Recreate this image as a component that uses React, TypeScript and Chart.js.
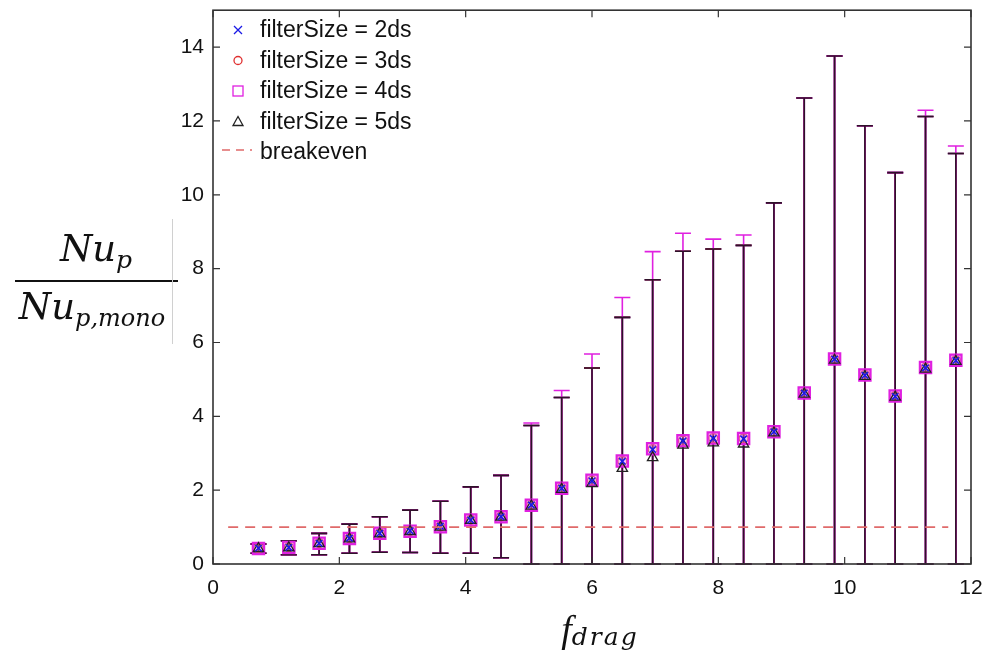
import React, { useEffect, useRef } from "react";
import { Chart, registerables } from "chart.js";
Chart.register(...registerables);

// ---------- data ----------
const fDrag = [0.72, 1.2, 1.68, 2.16, 2.64, 3.12, 3.6, 4.08, 4.56, 5.04, 5.52, 6.0, 6.48, 6.96, 7.44, 7.92, 8.4, 8.88, 9.36, 9.84, 10.32, 10.8, 11.28, 11.76];

const mean2ds = [0.43, 0.45, 0.56, 0.70, 0.83, 0.90, 1.02, 1.19, 1.28, 1.60, 2.05, 2.25, 2.78, 3.10, 3.33, 3.40, 3.39, 3.58, 4.63, 5.55, 5.11, 4.54, 5.31, 5.51];
const mean3ds = [0.43, 0.46, 0.57, 0.70, 0.84, 0.90, 1.02, 1.20, 1.29, 1.60, 2.06, 2.26, 2.79, 3.11, 3.34, 3.41, 3.40, 3.58, 4.63, 5.55, 5.12, 4.55, 5.32, 5.52];
const mean4ds = [0.42, 0.45, 0.56, 0.69, 0.83, 0.89, 1.01, 1.19, 1.28, 1.59, 2.05, 2.27, 2.79, 3.12, 3.34, 3.41, 3.40, 3.58, 4.63, 5.55, 5.12, 4.55, 5.32, 5.52];
const mean5ds = [0.42, 0.44, 0.55, 0.68, 0.82, 0.88, 1.00, 1.18, 1.27, 1.57, 2.02, 2.18, 2.59, 2.88, 3.22, 3.28, 3.25, 3.55, 4.60, 5.52, 5.08, 4.52, 5.28, 5.49];

const upper2ds = [0.54, 0.63, 0.83, 1.08, 1.28, 1.46, 1.70, 2.09, 2.40, 3.75, 4.51, 5.31, 6.68, 7.70, 8.47, 8.53, 8.63, 9.78, 12.62, 13.76, 11.87, 10.60, 12.12, 11.12];
const upper3ds = [0.54, 0.63, 0.83, 1.08, 1.28, 1.46, 1.70, 2.09, 2.40, 3.75, 4.51, 5.31, 6.68, 7.70, 8.47, 8.53, 8.63, 9.78, 12.62, 13.76, 11.87, 10.60, 12.12, 11.12];
const upper4ds = [0.54, 0.63, 0.83, 1.08, 1.28, 1.46, 1.70, 2.09, 2.40, 3.82, 4.70, 5.69, 7.22, 8.46, 8.96, 8.80, 8.91, 9.78, 12.62, 13.76, 11.87, 10.60, 12.29, 11.32];
const upper5ds = [0.54, 0.63, 0.83, 1.08, 1.28, 1.46, 1.70, 2.09, 2.40, 3.75, 4.51, 5.31, 6.68, 7.70, 8.47, 8.53, 8.63, 9.78, 12.62, 13.76, 11.87, 10.60, 12.12, 11.12];

const lower2ds = [0.29, 0.25, 0.25, 0.29, 0.32, 0.31, 0.29, 0.29, 0.17, 0, 0, 0, 0, 0, 0, 0, 0, 0, 0, 0, 0, 0, 0, 0];
const lower3ds = [0.29, 0.25, 0.25, 0.29, 0.32, 0.31, 0.29, 0.29, 0.17, 0, 0, 0, 0, 0, 0, 0, 0, 0, 0, 0, 0, 0, 0, 0];
const lower4ds = [0.29, 0.25, 0.25, 0.29, 0.32, 0.31, 0.29, 0.29, 0.17, 0, 0, 0, 0, 0, 0, 0, 0, 0, 0, 0, 0, 0, 0, 0];
const lower5ds = [0.29, 0.25, 0.25, 0.29, 0.32, 0.31, 0.29, 0.29, 0.17, 0, 0, 0, 0, 0, 0, 0, 0, 0, 0, 0, 0, 0, 0, 0];

const breakevenX = [0.24, 11.64];
const breakevenY = [1, 1];

const seriesLabels = ["filterSize = 2ds", "filterSize = 3ds", "filterSize = 4ds", "filterSize = 5ds", "breakeven"];

const xMin = 0, xMax = 12, xStep = 2;
const yMin = 0, yMax = 15, yStep = 2, yTickMax = 14;

// ---------- colours ----------
const BLUE = "#1a1ae6";
const RED = "#e03030";
const MAGENTA = "#e020e0";
const DARK = "#222222";
const BAR_DARK = "#2e1229";
const BREAKEVEN = "#e06a6a";

const pts = (ys: number[]) => fDrag.map((x, i) => ({ x, y: ys[i] }));

const errorBarPlugin = {
  id: "errorBars",
  beforeDatasetsDraw(chart: any) {
    const { ctx, scales } = chart;
    const xs = scales.x, ys = scales.y;
    ctx.save();
    chart.data.datasets.forEach((ds: any) => {
      const eb = ds.errorBars;
      if (!eb) return;
      ctx.strokeStyle = eb.color;
      ctx.lineWidth = 1.6;
      ds.data.forEach((p: any, j: number) => {
        const px = xs.getPixelForValue(p.x);
        const yt = ys.getPixelForValue(eb.upper[j]);
        const yb = ys.getPixelForValue(eb.lower[j]);
        ctx.beginPath();
        ctx.moveTo(px, yt);
        ctx.lineTo(px, yb);
        ctx.moveTo(px - 8, yt);
        ctx.lineTo(px + 8, yt);
        ctx.moveTo(px - 8, yb);
        ctx.lineTo(px + 8, yb);
        ctx.stroke();
      });
    });
    ctx.restore();
  },
};

const framePlugin = {
  id: "frame",
  afterDraw(chart: any) {
    const { ctx, chartArea: a, scales } = chart;
    ctx.save();
    ctx.strokeStyle = "#333";
    ctx.lineWidth = 1.6;
    ctx.strokeRect(a.left, a.top, a.right - a.left, a.bottom - a.top);
    ctx.lineWidth = 1.2;
    const tl = 7;
    ctx.beginPath();
    for (let v = xMin; v <= xMax; v += xStep) {
      const px = scales.x.getPixelForValue(v);
      ctx.moveTo(px, a.bottom);
      ctx.lineTo(px, a.bottom - tl);
      ctx.moveTo(px, a.top);
      ctx.lineTo(px, a.top + tl);
    }
    for (let v = yMin; v <= yTickMax; v += yStep) {
      const py = scales.y.getPixelForValue(v);
      ctx.moveTo(a.left, py);
      ctx.lineTo(a.left + tl, py);
      ctx.moveTo(a.right, py);
      ctx.lineTo(a.right - tl, py);
    }
    ctx.stroke();
    ctx.restore();
  },
};

const legendPlugin = {
  id: "customLegend",
  afterDraw(chart: any) {
    const { ctx } = chart;
    ctx.save();
    const mx = 238;
    const tx = 260;
    const rows = [30, 60.5, 91, 121.5, 152];
    ctx.lineWidth = 1.3;
    // X
    ctx.strokeStyle = BLUE;
    ctx.beginPath();
    ctx.moveTo(mx - 4, rows[0] - 4); ctx.lineTo(mx + 4, rows[0] + 4);
    ctx.moveTo(mx + 4, rows[0] - 4); ctx.lineTo(mx - 4, rows[0] + 4);
    ctx.stroke();
    // circle
    ctx.strokeStyle = RED;
    ctx.beginPath();
    ctx.arc(mx, rows[1], 4, 0, Math.PI * 2);
    ctx.stroke();
    // square
    ctx.strokeStyle = MAGENTA;
    ctx.strokeRect(mx - 5, rows[2] - 5, 10, 10);
    // triangle
    ctx.strokeStyle = DARK;
    ctx.beginPath();
    ctx.moveTo(mx, rows[3] - 5);
    ctx.lineTo(mx + 5, rows[3] + 4);
    ctx.lineTo(mx - 5, rows[3] + 4);
    ctx.closePath();
    ctx.stroke();
    // dashed
    ctx.strokeStyle = BREAKEVEN;
    ctx.lineWidth = 1.5;
    ctx.setLineDash([8, 6]);
    ctx.beginPath();
    ctx.moveTo(222, rows[4] - 2);
    ctx.lineTo(252, rows[4] - 2);
    ctx.stroke();
    ctx.setLineDash([]);
    // texts
    ctx.fillStyle = "#111";
    ctx.font = '23px "Liberation Sans", Arial, sans-serif';
    ctx.textBaseline = "middle";
    ctx.textAlign = "left";
    seriesLabels.forEach((t, i) => ctx.fillText(t, tx, rows[i] + 1));
    ctx.restore();
  },
};

const zeroPad = (s: any) => {
  s.paddingTop = 0;
  s.paddingBottom = 0;
  s.paddingLeft = 0;
  s.paddingRight = 0;
};

export default function App() {
  const canvasRef = useRef<HTMLCanvasElement | null>(null);

  useEffect(() => {
    if (!canvasRef.current) return;
    const chart = new Chart(canvasRef.current, {
      type: "scatter",
      data: {
        datasets: [
          {
            label: seriesLabels[4],
            type: "line",
            data: breakevenX.map((x, i) => ({ x, y: breakevenY[i] })),
            borderColor: BREAKEVEN,
            borderWidth: 1.6,
            borderDash: [10, 7],
            pointRadius: 0,
            fill: false,
            order: 0,
          } as any,
          {
            label: seriesLabels[0],
            data: pts(mean2ds),
            pointStyle: "crossRot",
            pointRadius: 4.5,
            borderColor: BLUE,
            backgroundColor: BLUE,
            borderWidth: 1.6,
            order: 0.5,
            errorBars: { upper: upper2ds, lower: lower2ds, color: BLUE },
          } as any,
          {
            label: seriesLabels[1],
            data: pts(mean3ds),
            pointStyle: "circle",
            pointRadius: 4.5,
            borderColor: RED,
            backgroundColor: "rgba(0,0,0,0)",
            borderWidth: 1.3,
            order: 3,
            errorBars: { upper: upper3ds, lower: lower3ds, color: RED },
          } as any,
          {
            label: seriesLabels[2],
            data: pts(mean4ds),
            pointStyle: "rect",
            pointRadius: 8,
            borderColor: MAGENTA,
            backgroundColor: "rgba(235,120,235,0.45)",
            borderWidth: 2.2,
            order: 2,
            errorBars: { upper: upper4ds, lower: lower4ds, color: MAGENTA },
          } as any,
          {
            label: seriesLabels[3],
            data: pts(mean5ds),
            pointStyle: "triangle",
            pointRadius: 6,
            borderColor: DARK,
            backgroundColor: "rgba(0,0,0,0)",
            borderWidth: 1.3,
            order: 1,
            errorBars: { upper: upper5ds, lower: lower5ds, color: BAR_DARK },
          } as any,
        ],
      },
      options: {
        animation: false,
        responsive: false,
        maintainAspectRatio: false,
        layout: { padding: { left: 0, right: 17, top: 8, bottom: 0 } },
        plugins: {
          legend: { display: false },
          tooltip: { enabled: false },
          title: { display: false },
        },
        scales: {
          x: {
            type: "linear",
            min: xMin,
            max: xMax,
            grid: { display: false, drawTicks: false },
            border: { display: false },
            ticks: {
              stepSize: xStep,
              includeBounds: false,
              color: "#111",
              padding: 12,
              maxRotation: 0,
              font: { family: '"Liberation Sans", Arial, sans-serif', size: 21 },
            },
            afterFit: (s: any) => { s.height = 95; zeroPad(s); },
          },
          y: {
            type: "linear",
            min: yMin,
            max: yMax,
            grid: { display: false, drawTicks: false },
            border: { display: false },
            ticks: {
              stepSize: yStep,
              includeBounds: false,
              color: "#111",
              padding: 9,
              font: { family: '"Liberation Sans", Arial, sans-serif', size: 21 },
            },
            afterFit: (s: any) => { s.width = 213; zeroPad(s); },
          },
        },
      },
      plugins: [errorBarPlugin, framePlugin, legendPlugin],
    });
    return () => chart.destroy();
  }, []);

  const serif = '"DejaVu Serif", "Liberation Serif", serif';
  return (
    <div style={{ position: "absolute", left: 0, top: 0, width: 988, height: 659, background: "#fff", overflow: "hidden" }}>
      <canvas ref={canvasRef} width={988} height={659} style={{ position: "absolute", left: 0, top: 0, width: 988, height: 659 }} />
      {/* y-axis title as fraction */}
      <div style={{ position: "absolute", left: 0, top: 230, width: 192, textAlign: "center", fontFamily: serif, fontStyle: "italic", fontSize: 37, lineHeight: "37px", color: "#111", whiteSpace: "nowrap" }}>
        Nu<span style={{ fontSize: 25, position: "relative", top: 7 }}>p</span>
      </div>
      <div style={{ position: "absolute", left: 15, top: 280, width: 163, height: 2, background: "#111" }} />
      <div style={{ position: "absolute", left: 0, top: 288, width: 184, textAlign: "center", fontFamily: serif, fontStyle: "italic", fontSize: 37, lineHeight: "37px", color: "#111", whiteSpace: "nowrap" }}>
        Nu<span style={{ fontSize: 24, position: "relative", top: 7 }}>p,mono</span>
      </div>
      <div style={{ position: "absolute", left: 172, top: 219, width: 1, height: 125, background: "#d0d0d0" }} />
      {/* x-axis title */}
      <div style={{ position: "absolute", left: 500, top: 610, width: 200, textAlign: "center", fontFamily: '"Liberation Serif", serif', fontStyle: "italic", fontSize: 38, lineHeight: "38px", color: "#111", whiteSpace: "nowrap" }}>
        f<span style={{ fontFamily: serif, fontSize: 25, letterSpacing: 2, position: "relative", top: 3 }}>drag</span>
      </div>
    </div>
  );
}
